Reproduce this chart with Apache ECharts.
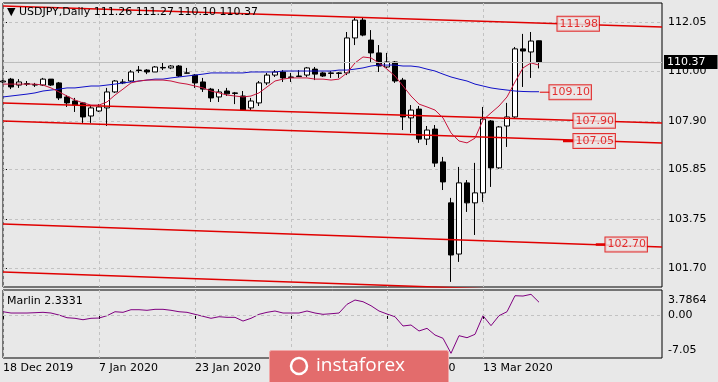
<!DOCTYPE html>
<html><head><meta charset="utf-8">
<script src="https://cdn.jsdelivr.net/npm/echarts@6/dist/echarts.min.js"></script>
<style>html,body{margin:0;padding:0;background:#e8e8e8}#c{width:718px;height:382px}</style>
</head><body><div id="c"></div><script>
const dates = ['18 Dec 2019','19 Dec 2019','20 Dec 2019','23 Dec 2019','24 Dec 2019','26 Dec 2019','27 Dec 2019','30 Dec 2019','31 Dec 2019',
'2 Jan 2020','3 Jan 2020','6 Jan 2020','7 Jan 2020','8 Jan 2020','9 Jan 2020','10 Jan 2020','13 Jan 2020','14 Jan 2020','15 Jan 2020','16 Jan 2020','17 Jan 2020','20 Jan 2020','21 Jan 2020','22 Jan 2020','23 Jan 2020','24 Jan 2020','27 Jan 2020','28 Jan 2020','29 Jan 2020','30 Jan 2020','31 Jan 2020',
'3 Feb 2020','4 Feb 2020','5 Feb 2020','6 Feb 2020','7 Feb 2020','10 Feb 2020','11 Feb 2020','12 Feb 2020','13 Feb 2020','14 Feb 2020','17 Feb 2020','18 Feb 2020','19 Feb 2020','20 Feb 2020','21 Feb 2020','24 Feb 2020','25 Feb 2020','26 Feb 2020','27 Feb 2020','28 Feb 2020',
'2 Mar 2020','3 Mar 2020','4 Mar 2020','5 Mar 2020','6 Mar 2020','9 Mar 2020','10 Mar 2020','11 Mar 2020','12 Mar 2020','13 Mar 2020','16 Mar 2020','17 Mar 2020','18 Mar 2020','19 Mar 2020','20 Mar 2020','23 Mar 2020','24 Mar 2020','25 Mar 2020','26 Mar 2020','27 Mar 2020','30 Mar 2020','31 Mar 2020',
'1 Apr 2020','2 Apr 2020','3 Apr 2020','6 Apr 2020','7 Apr 2020','8 Apr 2020','9 Apr 2020','10 Apr 2020','13 Apr 2020','14 Apr 2020'];
const dateLabelIdx = [0,12,24,36,48,60];

const opens = [109.53,109.65,109.40,109.44,109.40,109.40,109.65,109.49,108.90,108.73,
 108.65,108.10,108.31,108.44,109.11,109.53,109.57,110.03,110.03,109.95,
 110.14,110.12,110.20,109.91,109.82,109.53,109.23,108.90,109.15,109.07,
 108.94,108.44,108.65,109.49,109.82,109.95,109.74,109.78,109.82,110.07,
 109.91,109.91,109.91,109.91,111.38,112.13,111.29,110.75,110.16,110.37,
 109.61,108.02,108.39,107.13,107.55,106.17,104.45,102.30,105.29,104.45,
 104.87,107.89,105.92,107.68,108.06,110.92,110.79,111.26];
const closes = [109.57,109.32,109.53,109.46,109.42,109.65,109.40,108.86,108.65,108.56,
 108.06,108.44,108.48,109.11,109.57,109.49,109.95,110.01,109.95,110.16,
 110.12,110.20,109.78,109.90,109.49,109.23,108.86,109.11,109.03,109.05,
 108.35,108.73,109.49,109.82,109.95,109.70,109.72,109.76,110.12,109.86,
 109.78,109.89,109.89,111.38,112.13,111.50,110.75,110.20,110.37,109.57,
 108.06,108.35,107.13,107.51,106.12,105.33,102.26,105.29,104.45,104.87,
 107.97,105.92,107.64,108.06,110.92,110.83,111.25,110.37];
const lows = [109.49,109.23,109.28,109.36,109.32,109.36,109.36,108.77,108.48,108.27,
 107.81,107.81,108.27,107.68,109.07,109.44,109.53,109.91,109.86,109.95,
 110.03,110.07,109.74,109.88,109.28,109.11,108.69,108.69,108.94,108.60,
 108.31,108.31,108.52,109.40,109.74,109.53,109.53,109.74,109.74,109.61,
 109.74,109.70,109.70,109.82,111.08,111.45,110.37,109.95,110.12,109.49,
 107.51,107.39,106.97,106.88,105.96,104.99,101.13,101.97,104.07,103.10,
 104.49,105.12,105.88,106.80,108.02,109.32,109.70,110.10];
const highs = [109.61,109.70,109.65,109.57,109.49,109.70,109.65,109.53,108.98,108.86,
 108.69,108.56,108.60,109.28,109.61,109.65,110.03,110.20,110.07,110.20,
 110.33,110.24,110.24,110.12,109.86,109.70,109.28,109.23,109.28,109.11,
 109.15,108.86,109.57,109.91,110.03,110.03,109.91,110.03,110.16,110.16,
 109.95,109.99,109.95,111.63,112.26,112.26,111.71,111.08,110.75,110.41,
 109.70,108.56,108.52,107.68,107.72,106.38,104.66,105.96,105.41,106.13,
 108.48,107.93,107.68,108.65,111.00,111.55,111.63,111.27];

const blueMA = [108.90,108.94,108.98,109.02,109.07,109.15,109.19,109.23,109.28,109.28,
 109.32,109.36,109.36,109.40,109.44,109.49,109.53,109.57,109.61,109.65,
 109.65,109.70,109.74,109.78,109.82,109.86,109.91,109.91,109.91,109.91,
 109.91,109.95,109.95,109.95,109.95,109.99,109.99,109.99,109.99,109.99,
 109.99,109.99,110.03,110.03,110.07,110.12,110.20,110.24,110.24,110.24,
 110.20,110.20,110.16,110.07,109.99,109.86,109.74,109.65,109.57,109.44,
 109.36,109.28,109.23,109.19,109.15,109.13,109.12,109.12];
const redMA = [109.44,109.44,109.44,109.44,109.44,109.40,109.28,109.11,108.94,108.77,
 108.65,108.56,108.56,108.69,108.98,109.23,109.49,109.57,109.61,109.61,
 109.61,109.57,109.49,109.44,109.36,109.28,109.15,109.07,108.98,108.94,
 108.90,108.94,109.07,109.32,109.57,109.65,109.70,109.70,109.70,109.65,
 109.65,109.61,109.65,109.91,110.33,110.58,110.54,110.33,110.07,109.78,
 109.36,108.94,108.60,108.48,108.35,108.02,107.39,107.05,106.97,107.17,
 107.93,108.23,108.52,108.90,109.53,110.12,110.33,110.24];
const marlin = [0.59,0.35,0.35,0.35,0.41,0.48,0.35,-0.02,-0.51,-0.62,
 -0.88,-0.62,-0.57,-0.14,0.59,0.48,0.96,0.96,0.85,1.03,
 1.03,0.85,0.59,0.48,0.11,-0.25,-0.62,-0.33,-0.44,-0.44,
 -1.12,-0.62,0.11,0.48,0.72,0.35,0.35,0.35,0.72,0.35,
 0.11,0.22,0.35,1.95,2.74,2.43,1.69,0.72,0.17,-0.33,
 -2.03,-1.85,-2.95,-2.46,-3.69,-4.29,-7.05,-3.81,-4.18,-3.56,
 -0.14,-1.97,-0.14,0.59,3.53,3.47,3.7864,2.3331];

const priceTicks = [112.05,110.00,107.90,105.85,103.75,101.70];
const marlinTicks = [3.7864,0,-7.05];
const trendStart = [112.72,108.65,107.89,103.56,101.55];
const trendEnd = [111.84,107.81,106.97,102.60,100.58];
const levelValues = [111.98,109.10,107.90,107.05,102.70];

// ---- build ----
const X_END = 82.375;
const FONT = 'DejaVu Sans';
const N = opens.length, last = N - 1;
const pts = arr => arr.map((v, i) => [i, v]);
const candles = opens.map((o, i) => [i, o, closes[i], lows[i], highs[i]]);
const titleText = '\u25BC USDJPY,Daily ' + [opens[last], highs[last], lows[last], closes[last]].map(v => v.toFixed(2)).join(' ');
const levelAt = [71.9, 70.9, 73.9, 73.9, 77.9];
const leaders = [[67.1, 68.4, 1, 1], [70.0, 71.5, 3, 2.5], [74.1, 75.4, 4, 2.5]];

const RED = '#e00000';
const xAxis = (gi, show) => ({
  type: 'value', gridIndex: gi, min: 0, max: X_END, interval: 6,
  axisLine: { show: false },
  splitLine: { show: true, lineStyle: { color: '#c2c2c2', type: [3, 3], width: 1 } },
  axisTick: { show: show, customValues: dateLabelIdx, length: 4, lineStyle: { color: '#000' } },
  axisLabel: { show: show, customValues: dateLabelIdx, formatter: v => dates[Math.round(v)] || '',
    align: 'left', margin: 5, color: '#000', fontFamily: FONT, fontSize: 11 }
});

const series = [];
series.push({ type: 'line', xAxisIndex: 0, yAxisIndex: 0, data: [], silent: true, z: 1,
  markLine: { silent: true, symbol: 'none', z: 1, animation: false, label: { show: false },
    lineStyle: { color: '#c2c2c2', type: [3, 3], width: 1 },
    data: priceTicks.map(v => ({ yAxis: v })) } });
series.push({ type: 'candlestick', xAxisIndex: 0, yAxisIndex: 0, data: candles, barWidth: 5, z: 2,
  itemStyle: { color: '#ffffff', color0: '#000000', borderColor: '#000000', borderColor0: '#000000', borderWidth: 1 },
  markLine: { silent: true, symbol: 'none', animation: false,
    lineStyle: { color: '#bdbdbd', type: 'solid', width: 1 },
    label: { position: 'end', formatter: closes[last].toFixed(2), backgroundColor: '#000', color: '#fff',
      padding: [2, 12, 1, 3], fontFamily: FONT, fontSize: 11, distance: 2 },
    data: [{ yAxis: closes[last] }] } });
trendStart.forEach((s, k) => {
  series.push({ type: 'line', xAxisIndex: 0, yAxisIndex: 0, data: [[0, s], [X_END, trendEnd[k]]],
    symbol: 'none', silent: true, z: 3, lineStyle: { color: RED, width: 1.5 } });
});
series.push({ type: 'line', xAxisIndex: 0, yAxisIndex: 0, data: pts(blueMA), symbol: 'none', silent: true, z: 3,
  lineStyle: { color: '#1010c8', width: 1 } });
series.push({ type: 'line', xAxisIndex: 0, yAxisIndex: 0, data: pts(redMA), symbol: 'none', silent: true, z: 3,
  lineStyle: { color: '#c8143c', width: 1 } });
leaders.forEach(([a, b, k, w]) => {
  series.push({ type: 'line', xAxisIndex: 0, yAxisIndex: 0, data: [[a, levelValues[k]], [b, levelValues[k]]],
    symbol: 'none', silent: true, z: 3, lineStyle: { color: RED, width: w } });
});
series.push({ type: 'scatter', xAxisIndex: 0, yAxisIndex: 0, z: 4, silent: true,
  data: levelValues.map((v, i) => [levelAt[i], v]), symbolSize: 1, itemStyle: { color: 'rgba(0,0,0,0)' },
  label: { show: true, position: 'inside', formatter: p => p.value[1].toFixed(2), color: RED,
    borderColor: RED, borderWidth: 1, backgroundColor: '#ebe5e5', padding: [2, 1, 1, 2],
    fontFamily: FONT, fontSize: 11 } });
series.push({ type: 'line', xAxisIndex: 1, yAxisIndex: 1, data: pts(marlin), symbol: 'none', silent: true, z: 3,
  lineStyle: { color: '#800080', width: 1 },
  markLine: { silent: true, symbol: 'none', animation: false, label: { show: false },
    lineStyle: { color: '#c2c2c2', type: [3, 3], width: 1 }, data: [{ yAxis: 0 }] } });

const chart = echarts.init(document.getElementById('c'));
chart.setOption({
  animation: false,
  backgroundColor: '#e8e8e8',
  title: [
    { text: titleText, left: 7, top: 7, padding: 0, textStyle: { fontFamily: FONT, fontSize: 11, fontWeight: 'normal', color: '#000' } },
    { text: 'Marlin ' + marlin[last].toFixed(4), left: 7, top: 296, padding: 0, textStyle: { fontFamily: FONT, fontSize: 11, fontWeight: 'normal', color: '#000' } }
  ],
  grid: [
    { left: 3, top: 3, width: 659, height: 284, show: true, borderColor: '#000', borderWidth: 1, backgroundColor: '#e8e8e8' },
    { left: 3, top: 290, width: 659, height: 68, show: true, borderColor: '#000', borderWidth: 1, backgroundColor: '#e8e8e8' }
  ],
  xAxis: [xAxis(0, false), xAxis(1, true)],
  yAxis: [
    { type: 'value', gridIndex: 0, position: 'right', min: 100.915, max: 112.848,
      axisLine: { show: false }, splitLine: { show: false },
      axisTick: { show: true, customValues: priceTicks, length: 4, lineStyle: { color: '#000' } },
      axisLabel: { customValues: priceTicks, formatter: v => v.toFixed(2), margin: 6, color: '#000', fontFamily: FONT, fontSize: 11 } },
    { type: 'value', gridIndex: 1, position: 'right', min: -7.91, max: 4.58,
      axisLine: { show: false }, splitLine: { show: false },
      axisTick: { show: false },
      axisLabel: { customValues: marlinTicks, margin: 6, color: '#000', fontFamily: FONT, fontSize: 11,
        formatter: v => v === marlinTicks[0] ? '{t|' + v.toFixed(4) + '}' : (v === marlinTicks[2] ? '{b|' + v.toFixed(2) + '}' : v.toFixed(2)),
        rich: { t: { padding: [11, 0, 0, 0], fontFamily: FONT, fontSize: 11, color: '#000' },
                b: { padding: [0, 0, 7, 0], fontFamily: FONT, fontSize: 11, color: '#000' } } } }
  ],
  series: series,
  graphic: [
    { type: 'rect', z: 100, shape: { x: 269.5, y: 350.5, width: 179, height: 40, r: 2 },
      style: { fill: '#e36c6c', stroke: '#f0a8a8', lineWidth: 1 } },
    { type: 'circle', z: 101, shape: { cx: 299, cy: 366, r: 8 }, style: { fill: 'none', stroke: '#ffffff', lineWidth: 2.5 } },
    { type: 'text', z: 101, x: 316, y: 366, style: { text: 'instaforex', fill: '#ffffff', fontFamily: 'Open Sans', fontSize: 19, verticalAlign: 'middle' } }
  ]
});
</script></body></html>
